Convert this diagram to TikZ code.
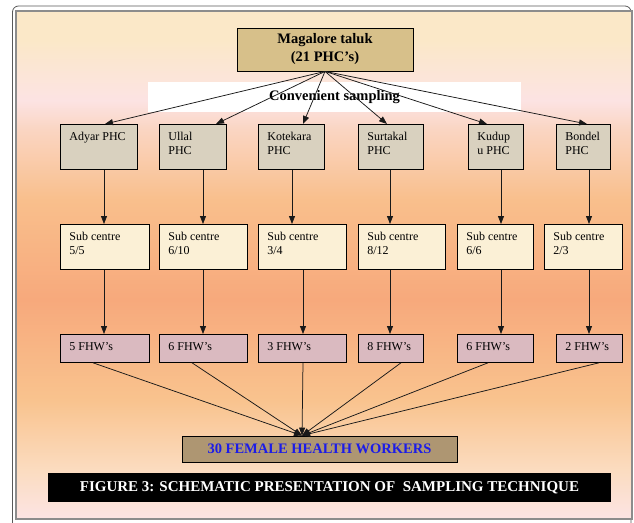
\documentclass[tikz,border=0pt]{standalone}
\usepackage{fontspec}
\setmainfont{Liberation Serif}
\usepackage{tikz}
\usetikzlibrary{arrows.meta}

\definecolor{talukfill}{HTML}{D7C08A}
\definecolor{phcfill}{HTML}{D9D1BF}
\definecolor{subfill}{HTML}{FBF0D6}
\definecolor{fhwfill}{HTML}{DABAC0}
\definecolor{burlap}{HTML}{AE9672}
\definecolor{workerblue}{HTML}{1C1CE8}
\definecolor{fadeA}{HTML}{FCE4E4}
\definecolor{fadeB}{HTML}{FBDCC0}
\definecolor{fadeC}{HTML}{F9C38E}
\definecolor{fadeD}{HTML}{F7A97C}
\definecolor{fadeE}{HTML}{F9BF8C}
\definecolor{fadeF}{HTML}{FAD5C2}
\definecolor{fadeG}{HTML}{FCE3E3}
\definecolor{fadeH}{HTML}{FBE8C8}

\pgfdeclareverticalshading{bgfade}{100bp}{color(0bp)=(fadeA); color(25bp)=(fadeA);
  color(29.8bp)=(fadeB); color(36.7bp)=(fadeC); color(46.6bp)=(fadeD);
  color(56.4bp)=(fadeE); color(63.3bp)=(fadeF); color(66.2bp)=(fadeG);
  color(72.1bp)=(fadeH); color(75bp)=(fadeH); color(100bp)=(fadeH)}

\newcommand{\celltext}[3]{\parbox[c][#2][t]{#1}{\vspace*{8pt}\leftskip=9pt\relax #3}}

\begin{document}
\begin{tikzpicture}
        [%%%%%%%%%%%%%%%%%%%%%%%%%%%%%%
        x=1pt, y=-1pt,
        cell/.style={draw=black, line width=0.8pt, inner sep=0pt, anchor=north west, font=\fontsize{12}{14}\selectfont},
        taluk/.style={draw=black, line width=0.8pt, fill=talukfill, align=center, minimum width=176pt, minimum height=43pt, font=\fontsize{14.5}{18}\selectfont\bfseries},
        arr/.style={draw=black!90, line width=0.75pt, -{Triangle[length=8pt,width=6pt]}},
        ]%%%%%%%%%%%%%%%%%%%%%%%%%%%%%%
        \useasboundingbox (0,0) rectangle (634,522);
        % frame and background
        \draw[black!65, line width=0.8pt, rounded corners=6pt] (12.5,6) rectangle (631,530);
        \shade[shading=bgfade, draw=black!45, line width=1.5pt] (16,11) rectangle (632,519);

        \node[fill=white, minimum width=373pt, minimum height=30pt, font=\fontsize{14.5}{18}\selectfont\bfseries] (band) at (334.5,97) {Convenient sampling};
        \node[taluk] (taluk) at (325,49.5) {Magalore taluk\\(21 PHC’s)};

        \foreach \i/\x/\w/\t in {1/60/77/{Adyar PHC}, 2/159/67/{Ullal\\PHC}, 3/258/66/{Kotekara\\PHC},
                                 4/358/65/{Surtakal\\PHC}, 5/468/55/{Kudup\\u PHC}, 6/556/54/{Bondel\\PHC}}{
          \node[cell, fill=phcfill] (phc\i) at (\x,124) {\celltext{\w pt}{45pt}{\t}};
        }
        \foreach \i/\x/\w/\t in {1/60/89/{5/5}, 2/159/88/{6/10}, 3/258/88/{3/4},
                                 4/358/87/{8/12}, 5/457/76/{6/6}, 6/544/78/{2/3}}{
          \node[cell, fill=subfill] (sub\i) at (\x,224) {\celltext{\w pt}{45pt}{Sub centre\\\t}};
        }
        \foreach \i/\x/\w/\n in {1/60/89/5, 2/159/88/6, 3/258/88/3,
                                 4/358/65/8, 5/457/76/6, 6/556/66/2}{
          \node[cell, fill=fhwfill] (fhw\i) at (\x,334) {\celltext{\w pt}{28pt}{\n\ FHW's}};
        }

        \node[draw=black, line width=0.8pt, fill=burlap, minimum width=275pt, minimum height=26pt, text=workerblue, font=\fontsize{14.5}{18}\selectfont\bfseries] (total) at (319.5,449) {30 FEMALE HEALTH WORKERS};
        \node[fill=black, minimum width=563pt, minimum height=29pt, text=white, font=\fontsize{15}{18}\selectfont\bfseries] (caption) at (329.5,487.5) {FIGURE 3: SCHEMATIC PRESENTATION OF~ SAMPLING TECHNIQUE};

        % connectors
        \foreach \i/\x in {1/105, 2/216, 3/303, 4/387, 5/487, 6/587}
          \draw[arr] (taluk.south) -- (phc\i.north -| \x,0);
        \foreach \i/\x in {1/104, 2/203, 3/292, 4/390, 5/501, 6/589}
          \draw[arr] (phc\i.south -| \x,0) -- (sub\i.north -| \x,0);
        \foreach \i/\x in {1/104, 2/203, 3/303, 4/390, 5/501, 6/589}
          \draw[arr] (sub\i.south -| \x,0) -- (fhw\i.north -| \x,0);
        \foreach \i/\x in {1/93, 2/192, 3/303, 4/401, 5/488, 6/599}
          \draw[arr] (fhw\i.south -| \x,0) -- (total.north -| 302,0);

      \end{tikzpicture}
\end{document}
